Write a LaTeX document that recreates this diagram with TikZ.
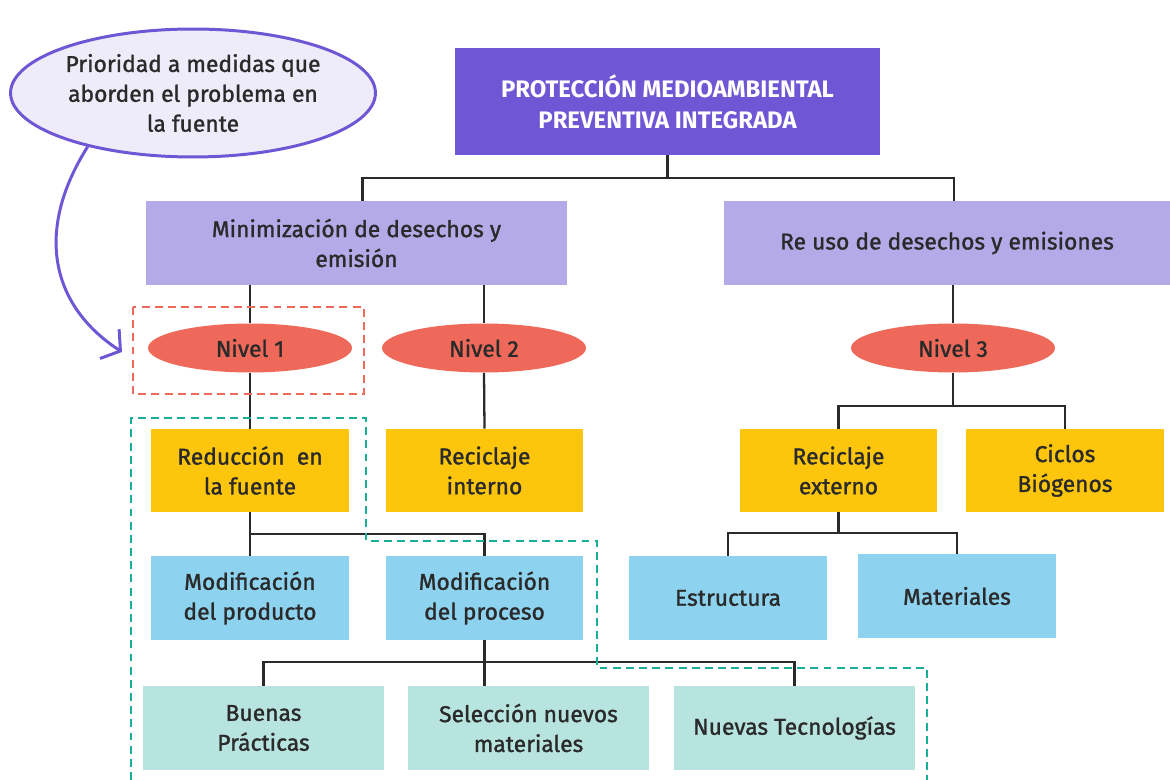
\documentclass[tikz,border=0pt]{standalone}
\usepackage{fontspec}
\setmainfont{Fira Sans}[FakeBold=0]
\newfontfamily\medfont{Fira Sans}[FakeBold=1.3]
\usepackage{tikz}
\usetikzlibrary{calc, shapes.geometric}
\usetikzlibrary{arrows.meta}
\tikzset{>={Latex[width=1.5mm,length=1.5mm]}}
\definecolor{titlepurple}{HTML}{6F56D5}
\definecolor{lightpurple}{HTML}{B5AAE8}
\definecolor{bubblefill}{HTML}{EFECFA}
\definecolor{coral}{HTML}{EE6959}
\definecolor{amber}{HTML}{FDC50C}
\definecolor{skyblue}{HTML}{8DD3EF}
\definecolor{paleteal}{HTML}{B8E4DF}
\definecolor{dashteal}{HTML}{18AE98}
\definecolor{inkgray}{HTML}{2A2A2A}

\begin{document}
\begin{tikzpicture}[
    x = 0.02cm, y = -0.02cm,
    every node/.style = {text = inkgray, align = center, font = \medfont\fontsize{13}{17}\selectfont},
    title/.style = {fill = titlepurple, minimum width = 8.5cm, minimum height = 2.14cm,
        text = white, font = \fontsize{13.6}{17.5}\selectfont\bfseries},
    branch/.style = {fill = lightpurple, minimum height = 1.68cm},
    level/.style = {ellipse, fill = coral, minimum width = 4.08cm, minimum height = 0.98cm},
    action/.style = {fill = amber, minimum width = 3.96cm, minimum height = 1.66cm},
    way/.style = {fill = skyblue, minimum width = 3.96cm, minimum height = 1.68cm},
    practice/.style = {fill = paleteal, minimum width = 4.82cm, minimum height = 1.68cm},
    link/.style = {draw = inkgray, line width = 1.3pt},
    frame/.style = {line width = 1.3pt, dash pattern = on 4.5pt off 3pt}
  ]
  \useasboundingbox (0,0) rectangle (1170,780);

  % callout
  \node[ellipse, draw = titlepurple, line width = 1.7pt, fill = bubblefill,
      minimum width = 7.3cm, minimum height = 2.56cm, inner sep = 0pt] (bubble) at (193,93)
      {Prioridad a medidas que\\aborden el problema en\\la fuente};
  \coordinate (tip) at (122,352);
  \draw[titlepurple, line width = 1.7pt,
      -{Straight Barb[length=2.6mm, width=7mm, line width=1.7pt]}]
      (bubble.207) .. controls (35,230) and (50,305) .. (tip);

  % top levels
  \node[title] (top) at (667.5,101.5) {PROTECCIÓN MEDIOAMBIENTAL\\PREVENTIVA INTEGRADA};
  \node[branch, minimum width = 8.42cm] (mini) at (356.5,243) {Minimización de desechos y\\emisión};
  \node[branch, minimum width = 8.92cm] (reuse) at (947,243) {Re uso de desechos y emisiones};

  \node[level] (n1) at (250,348) {Nivel 1};
  \node[level] (n2) at (484,348) {Nivel 2};
  \node[level] (n3) at (953,348) {Nivel 3};

  \node[action] (red) at (250,470.5) {Reducción\ \ en\\la fuente};
  \node[action] (rin) at (484.5,470.5) {Reciclaje\\interno};
  \node[action] (rex) at (838.5,470.5) {Reciclaje\\externo};
  \node[action] (cic) at (1065,470.5) {Ciclos\\Biógenos};

  \node[way] (prod) at (250,598) {Modificación\\del producto};
  \node[way] (proc) at (484.5,598) {Modificación\\del proceso};
  \node[way] (est) at (728,598) {Estructura};
  \node[way] (mat) at (957,596) {Materiales};

  \node[practice] (bue) at (263.5,728) {Buenas\\Prácticas};
  \node[practice] (sel) at (528.5,728) {Selección nuevos\\materiales};
  \node[practice] (nue) at (794.5,728) {Nuevas Tecnologías};

  % connectors
  \draw[link] (top.south) -- ++(0,23) -| ($(mini.north)+(6,0)$);
  \draw[link] (top.south) ++(0,23) -| ($(reuse.north)+(7,0)$);
  \draw[link] (n1.north) -- (n1.north |- mini.south);
  \draw[link] (n2.north) -- (n2.north |- mini.south);
  \draw[link] (n3.north) -- (n3.north |- reuse.south);
  \draw[link] (n1.south) -- (red.north);
  \draw[link] (n2.south) -- (rin.north);
  \draw[link] (n3.south) -- ++(0,33) -| (rex.north);
  \draw[link] (n3.south) ++(0,33) -| (cic.north);
  \draw[link] (red.south) -- ++(0,22) -| (prod.north);
  \draw[link] (red.south) ++(0,22) -| (proc.north);
  \draw[link] (rex.south) -- ++(0,21) -| (est.north);
  \draw[link] (rex.south) ++(0,21) -| (mat.north);
  \draw[link] (proc.south) -- ++(0,22) -| (bue.north);
  \draw[link] (proc.south) -- (proc.south |- sel.north);
  \draw[link] (proc.south) ++(0,22) -| (nue.north);

  % dashed frames
  \draw[frame, draw = coral] (133,307) rectangle (364,394);
  \draw[frame, draw = dashteal] (131,780) -- (131,418) -- (366,418) -- (366,541)
      -- (597,541) -- (597,668) -- (927,668) -- (927,780);
\end{tikzpicture}
\end{document}
